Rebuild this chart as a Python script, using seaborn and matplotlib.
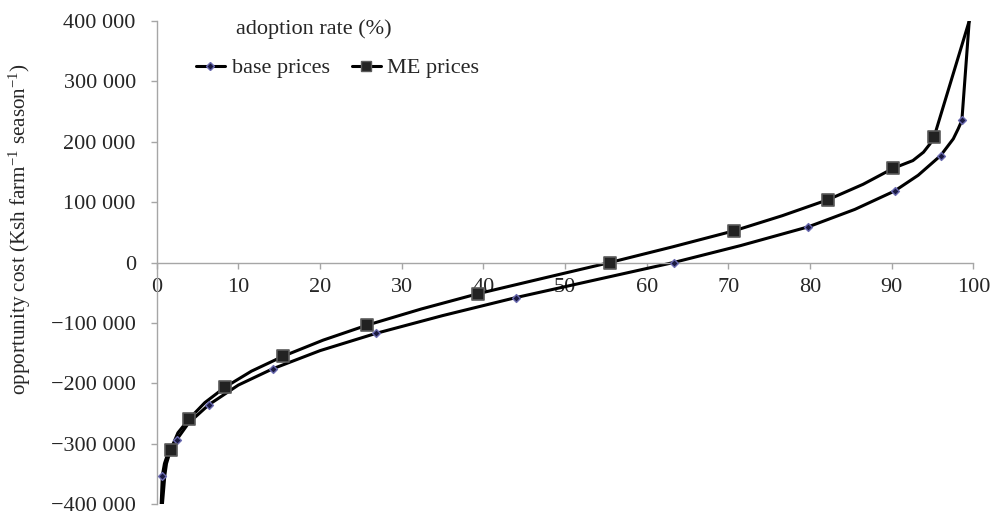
import matplotlib
matplotlib.use('Agg')
import matplotlib.pyplot as plt
import matplotlib.ticker as mticker
from matplotlib.lines import Line2D
import seaborn as sns

# curve points (x = adoption rate %, y = opportunity cost)
base_x = [0.55, 0.69, 0.95, 1.5, 2.45, 3.9, 6.4, 10.0, 14.2, 20.0, 26.85, 35.0,
          43.96, 53.5, 63.3, 71.5, 79.8, 85.5, 90.36, 93.25, 96.0, 97.55, 98.15,
          98.6, 99.5]
base_y = [-400000, -353000, -333000, -311000, -293500, -266000, -235400, -203000,
          -176100, -146000, -117400, -88000, -58200, -29500, 0, 28000, 59100,
          88000, 118400, 144500, 177100, 204800, 221400, 235200, 400000]
me_x = [0.7, 1.0, 1.2, 1.71, 2.6, 4.0, 5.9, 8.36, 11.6, 15.5, 20.4, 25.8, 32.4,
        39.4, 47.4, 55.5, 63.2, 70.7, 76.6, 82.2, 86.5, 90.2, 92.6, 93.9, 94.7,
        95.2, 99.5]
me_y = [-400000, -352000, -333000, -310100, -282000, -258600, -232000, -206600,
        -180000, -155100, -128500, -103600, -77000, -51500, -25800, 0, 26000,
        52500, 77500, 104000, 129500, 156100, 168800, 182700, 196500, 208100,
        400000]

# marker positions (the data points of each series)
base_mx = [0.69, 2.45, 6.4, 14.2, 26.85, 43.96, 63.3, 79.8, 90.36, 96.0, 98.6]
base_my = [-353000, -293500, -235400, -176100, -117400, -58200, 0, 59100,
           118400, 177100, 235200]
me_mx = [1.71, 4.0, 8.36, 15.5, 25.8, 39.4, 55.5, 70.7, 82.2, 90.2, 95.2]
me_my = [-310100, -258600, -206600, -155100, -103600, -51500, 0, 52500,
         104000, 156100, 208100]

sns.set_style('white')
plt.rcParams['font.family'] = ['Liberation Serif', 'DejaVu Serif']
plt.rcParams['mathtext.fontset'] = 'custom'
plt.rcParams['mathtext.rm'] = 'Liberation Serif'
plt.rcParams['mathtext.it'] = 'Liberation Serif:italic'

fig = plt.figure(figsize=(9.92, 5.15), dpi=100)
ax = fig.add_axes([156.7 / 992, 1 - 504 / 515, (973.3 - 156.7) / 992, (504 - 21) / 515])

sns.lineplot(x=base_x, y=base_y, color='black', lw=2.2, ax=ax, sort=False)
sns.lineplot(x=me_x, y=me_y, color='black', lw=2.2, ax=ax, sort=False)
sns.scatterplot(x=base_mx, y=base_my, marker='D', s=16, color='#1a1a40',
                edgecolor='#6a6ab0', linewidth=1.0, ax=ax, zorder=3)
sns.scatterplot(x=me_mx, y=me_my, marker='s', s=70, color='#222222',
                edgecolor='#5a5a5a', linewidth=1.2, ax=ax, zorder=3)

ax.set_xlim(0, 100)
ax.set_ylim(-400000, 400000)
ax.set_xticks(range(0, 101, 10))
ax.set_yticks(range(-400000, 400001, 100000))


def fmt(v, pos):
    v = int(round(v))
    if v == 0:
        return '0'
    s = f'{abs(v):,}'.replace(',', ' ')
    return ('\u2212' if v < 0 else '') + s


ax.yaxis.set_major_formatter(mticker.FuncFormatter(fmt))

for side in ['top', 'right']:
    ax.spines[side].set_visible(False)
ax.spines['bottom'].set_position(('data', 0))
for side in ['left', 'bottom']:
    ax.spines[side].set_color('#a6a6a6')
    ax.spines[side].set_linewidth(1.0)

ax.tick_params(axis='y', direction='out', length=4, width=1, color='#a6a6a6',
               pad=11, labelsize=16, left=True)
ax.tick_params(axis='x', direction='out', length=4, width=1, color='#a6a6a6',
               pad=7, labelsize=16, bottom=True)
ax.grid(False)
ax.set_xlabel('')
ax.set_ylabel('')

fig.text(20 / 992, 1 - 229 / 515,
         r'opportunity cost (Ksh farm$^{-1}$ season$^{-1}$)',
         rotation=90, ha='center', va='center', fontsize=15.2)
fig.text(314 / 992, 1 - 29 / 515, 'adoption rate (%)',
         ha='center', va='center', fontsize=16)

handles = [
    Line2D([], [], color='black', lw=2.2, marker='D', markersize=4,
           markerfacecolor='#1a1a40', markeredgecolor='#6a6ab0'),
    Line2D([], [], color='black', lw=2.2, marker='s', markersize=6.5,
           markerfacecolor='#222222', markeredgecolor='#5a5a5a'),
]
ax.legend(handles, ['base prices', 'ME prices'], ncol=2, frameon=False,
          loc='center left', bbox_to_anchor=(196 / 992, 1 - 68 / 515),
          bbox_transform=fig.transFigure, fontsize=16, borderpad=0,
          borderaxespad=0, handlelength=1.3, handletextpad=0.3,
          columnspacing=1.0)

plt.savefig('out.png', dpi=100)
